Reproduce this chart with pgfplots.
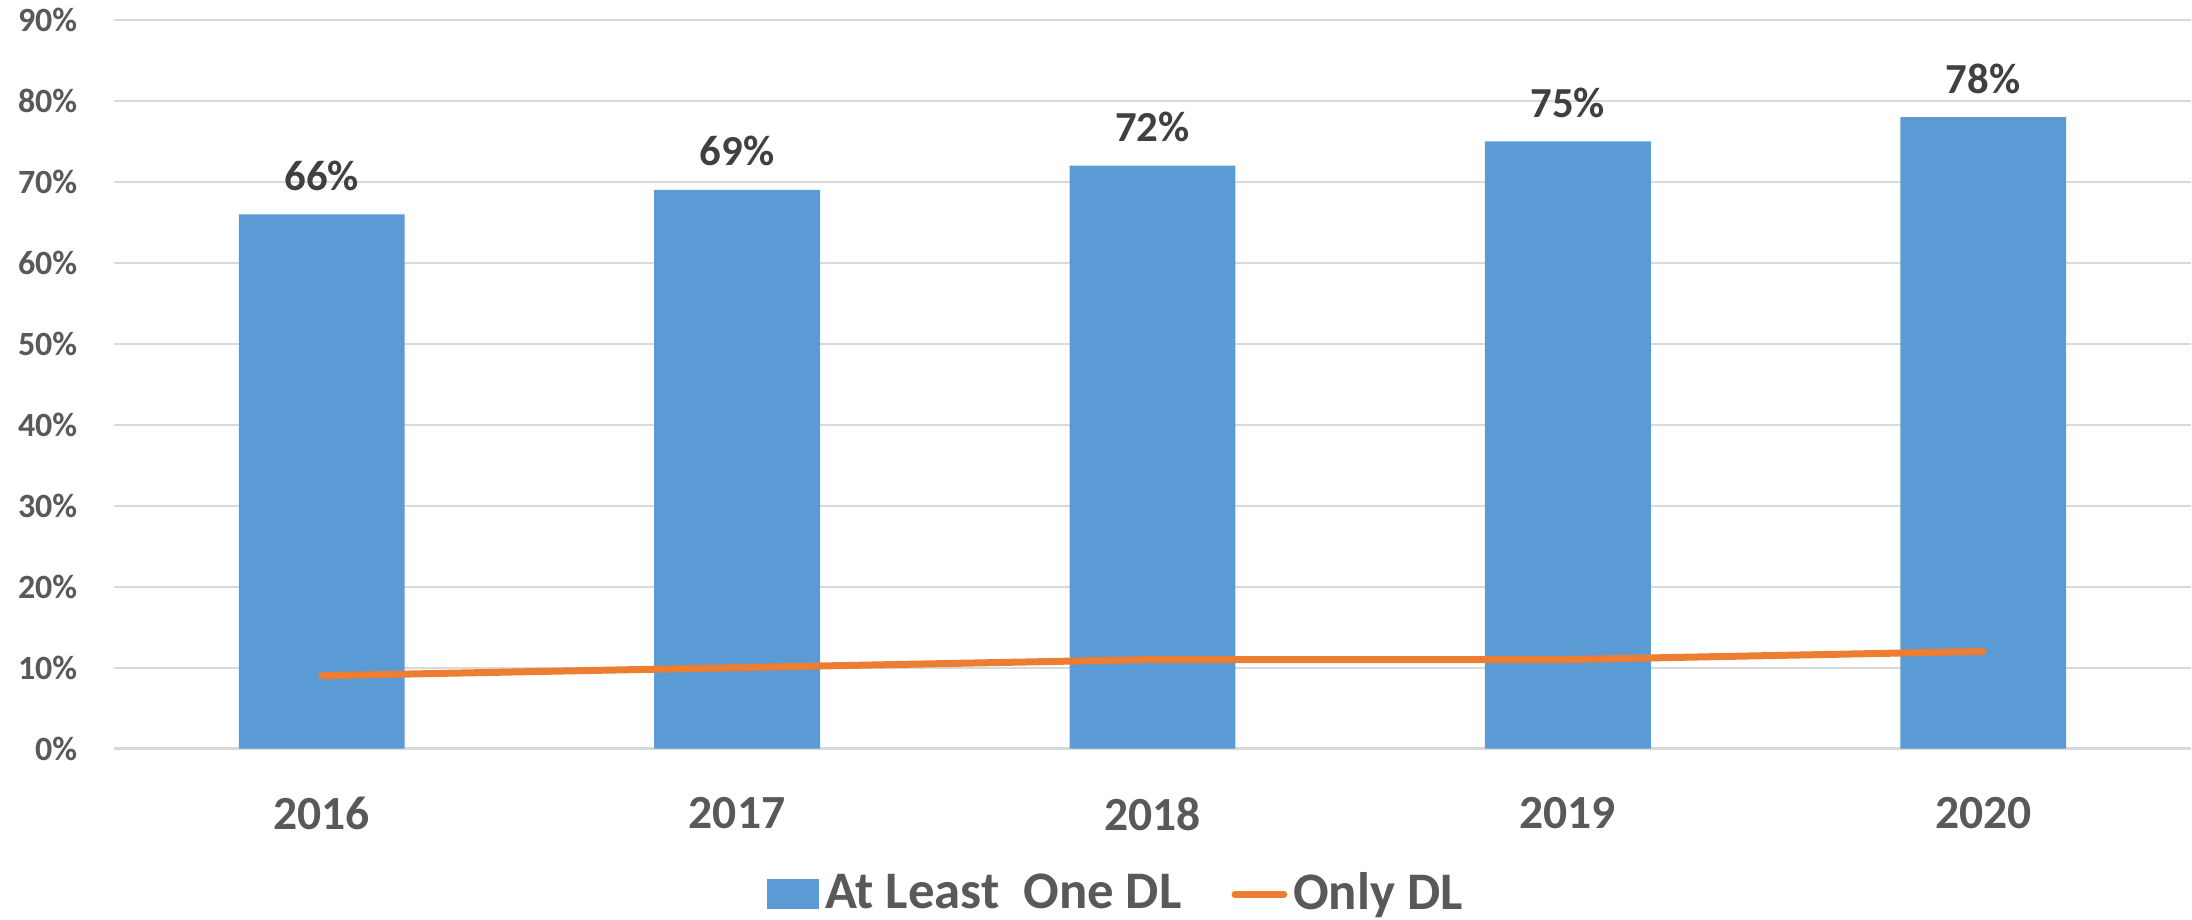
\documentclass[border=0pt]{standalone}
\usepackage{fontspec}
\setmainfont{Carlito}
\usepackage{pgfplots}
\pgfplotsset{compat=1.18}

\definecolor{barblue}{HTML}{5B9BD5}
\definecolor{lineorange}{HTML}{ED7D31}
\definecolor{gridgray}{HTML}{D9D9D9}
\definecolor{ticktext}{HTML}{595959}
\definecolor{labeltext}{HTML}{404040}

\begin{document}
\begin{tikzpicture}
\begin{axis}[
    scale only axis,
    width=519.5pt, height=182.25pt,
    xmin=-0.5, xmax=4.5,
    ymin=0, ymax=90,
    xtick={0,...,4},
    xticklabels={2016,2017,2018,2019,2020},
    ytick={0,10,...,90},
    yticklabels={0\%,10\%,20\%,30\%,40\%,50\%,60\%,70\%,80\%,90\%},
    ymajorgrids,
    grid style={gridgray, line width=0.55pt},
    axis line style={draw=none},
    tick style={draw=none},
    yticklabel style={anchor=east, inner sep=0pt, xshift=-9pt,
        font=\bfseries\fontsize{8.5}{10}\selectfont, text=ticktext},
    xticklabel style={anchor=north, inner sep=0pt, yshift=-12pt,
        font=\bfseries\fontsize{11.9}{14}\selectfont, text=ticktext},
    clip=false,
    legend columns=2,
    legend style={at={(0.482,-0.2)}, anchor=center, draw=none, fill=none,
        inner sep=0pt, nodes={inner sep=0pt}, text=ticktext,
        font=\bfseries\fontsize{13.2}{15}\selectfont,
        /tikz/every odd column/.append style={column sep=1.5pt},
        /tikz/every even column/.append style={column sep=12.5pt}},
]

% share with at least one DL
\addplot[ybar, bar width=41.5pt, fill=barblue, draw=none, area legend,
    legend image code/.code={\fill[barblue] (0pt,-3.75pt) rectangle (13pt,3.75pt);},
    nodes near coords={\pgfmathprintnumber[assume math mode=true]{\pgfplotspointmeta}\%},
    every node near coord/.append style={anchor=base, inner sep=0pt, yshift=6pt,
        font=\bfseries\fontsize{10.7}{12}\selectfont, text=labeltext}]
    coordinates {(0,66)(1,69)(2,72)(3,75)(4,78)};

% share with only DL
\addplot[lineorange, line width=1.75pt, line cap=round, mark=none, sharp plot,
    legend image code/.code={\draw[lineorange, line width=1.75pt, line cap=round] (0.9pt,0pt) -- (13.1pt,0pt);}]
    coordinates {(0,9)(1,10)(2,11)(3,11)(4,12)};

\legend{At Least~ One DL, Only DL}

% page frame as in the reference
\path (rel axis cs:-0.0549,-0.2346) rectangle (rel axis cs:1,1.0274);
\end{axis}
\end{tikzpicture}
\end{document}
